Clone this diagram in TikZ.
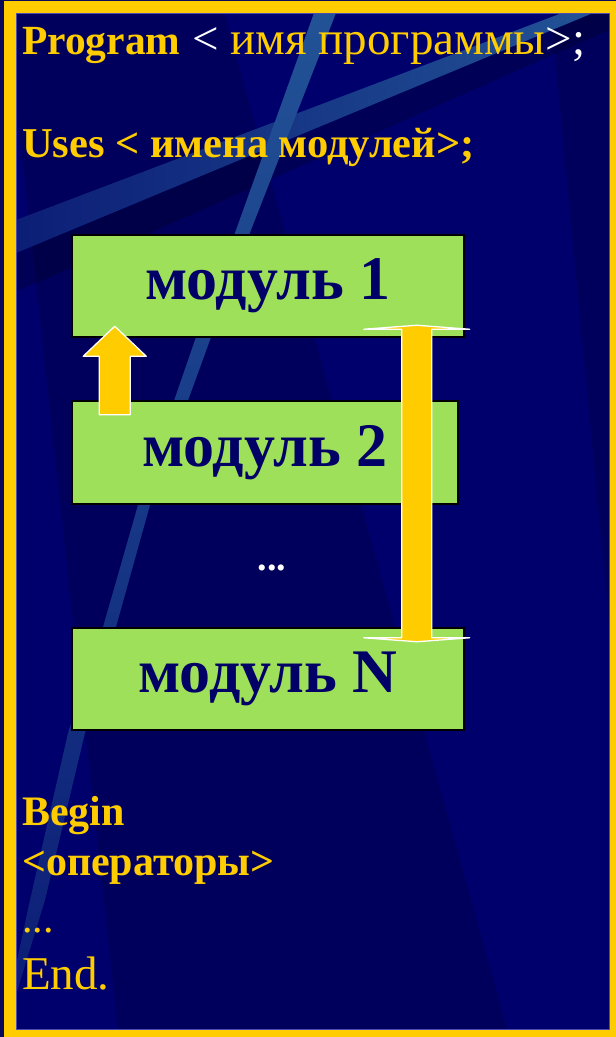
\documentclass[tikz,border=0pt]{standalone}
\usepackage{fontspec}
\setmainfont{Liberation Serif}
\usetikzlibrary{calc}
\definecolor{yel}{RGB}{255,204,0}
\definecolor{bgmain}{RGB}{0,0,108}
\definecolor{bgdark}{RGB}{0,0,92}
\definecolor{edgeblue}{RGB}{10,10,90}
\definecolor{stripe}{RGB}{34,82,150}
\definecolor{stripefade}{RGB}{12,30,118}
\definecolor{modgreen}{RGB}{158,224,90}
\definecolor{navy}{RGB}{0,0,102}
\begin{document}
\begin{tikzpicture}[x=1pt,y=-1pt,
  txt/.style={anchor=base west, inner sep=0pt, text=yel},
  modbox/.style={draw=black, line width=2.5pt, fill=modgreen, text=navy, inner sep=0pt,
    font=\fontsize{62}{70}\selectfont\bfseries},
  blockarrow/.style={fill=yel, draw=white, line width=1.3pt, line join=round}]
\useasboundingbox (0,0) rectangle (616,1037);
% frame and background
\fill[yel] (0,0) rectangle (616,1037);
\fill[edgeblue] (0,0) rectangle (4,1037);
\fill[edgeblue] (0,0) rectangle (616,1);
\fill[bgmain] (16,13) rectangle (609,1029);
\begin{scope}
  \clip (16,13) rectangle (609,1029);
  \fill[bgdark] (16,13) -- (224,13) -- (507,1029) -- (118,1029) -- (16,100) -- cycle;
  \fill[bgdark] (551,13) -- (609,13) -- (609,620) -- cycle;
  \fill[black, opacity=0.2] (593,13) -- (609,13) -- (609,30) -- (16,292) -- (16,253) -- cycle;
  \shade[left color=stripefade, right color=stripe]
    (562,13) -- (593,13) -- (16,253) -- (16,220) -- cycle;
  \shade[top color=stripe, middle color=stripe, bottom color=stripefade]
    (314,13) -- (236,230) -- (195,340) -- (138,505) -- (103,627) -- (68,733) -- (30,900) -- (16,965)
    -- (16,995) -- (45,900) -- (85,733) -- (116,627) -- (150,505) -- (210,340) -- (251,230) -- (336,13) -- cycle;
\end{scope}
\draw[gray!60!blue, line width=0.8pt] (16,13) rectangle (609,1029);
% header texts
\node[txt, font=\fontsize{47}{52}\selectfont] (prog) at (22,54)
  {{\fontsize{41.5}{48}\selectfont\bfseries Program} \textcolor{white}{<} имя программы\textcolor{white}{>;}};
\node[txt, font=\fontsize{42.5}{48}\selectfont\bfseries] (uses) at (22,157) {Uses < имена модулей>;};
% modules
\node[modbox, minimum width=392pt, minimum height=102pt] (m1) at (268,286) {модуль 1};
\node[modbox, minimum width=386pt, minimum height=103pt] (m2) at (265,452.5) {модуль 2};
\node[modbox, minimum width=392pt, minimum height=102pt] (mN) at (268,679) {модуль N};
\node[anchor=base, inner sep=0pt, text=white, font=\fontsize{38}{40}\selectfont\bfseries] (ell) at (272,570) {...};
% arrows
\coordinate (ab) at ($(m2.north west)+(44,15)$);
\coordinate (at) at ($(m1.south west)+(44,-12)$);
\draw[blockarrow] ($(ab)+(-15.5,0)$) -- ($(ab)+(15.5,0)$) -- ($(at)+(15.5,30)$) -- ($(at)+(31.5,30)$)
  -- (at) -- ($(at)+(-31.5,30)$) -- ($(at)+(-15.5,30)$) -- cycle;
\coordinate (rt) at ($(m1.south west)+(346,-13)$);
\coordinate (rb) at ($(mN.north west)+(346,15)$);
\draw[blockarrow] (rt) -- ($(rt)+(53,4)$) -- ($(rt)+(15,4)$) -- ($(rb)+(15,-4)$) -- ($(rb)+(53,-4)$)
  -- (rb) -- ($(rb)+(-53,-4)$) -- ($(rb)+(-15,-4)$) -- ($(rt)+(-15,4)$) -- ($(rt)+(-53,4)$) -- cycle;
% body texts
\node[txt, font=\fontsize{42}{48}\selectfont\bfseries] (beg) at (22,825) {Begin};
\node[txt, font=\fontsize{42}{48}\selectfont\bfseries] (ops) at (22,875) {<операторы>};
\node[txt, font=\fontsize{42}{48}\selectfont] (dots) at (22,932) {...};
\node[txt, font=\fontsize{47}{52}\selectfont] (endn) at (22,989) {End.};
\end{tikzpicture}
\end{document}
